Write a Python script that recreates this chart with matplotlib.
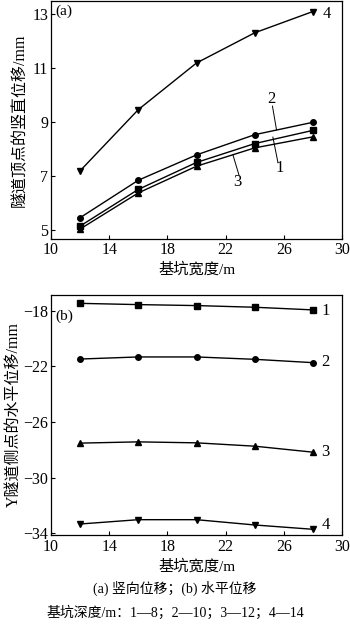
import numpy as np
import matplotlib
matplotlib.use("Agg")
import matplotlib.pyplot as plt

plt.rcParams['font.family'] = ['Liberation Serif', 'Noto Sans CJK SC']

# 基坑宽度 / m
width = [12, 16, 20, 24, 28]

# (a) 竖向位移 / mm
v1 = [5.15, 6.51, 7.51, 8.21, 8.70]
v2 = [5.46, 6.85, 7.79, 8.54, 9.00]
v3 = [5.04, 6.38, 7.37, 8.05, 8.46]
v4 = [7.20, 9.47, 11.20, 12.32, 13.11]

# (b) 水平位移 / mm
h1 = [-17.48, -17.57, -17.64, -17.76, -17.95]
h2 = [-21.48, -21.33, -21.33, -21.50, -21.74]
h3 = [-27.52, -27.43, -27.50, -27.74, -28.17]
h4 = [-33.33, -33.02, -33.02, -33.40, -33.71]

markers = ['s', 'o', '^', 'v']
names = ['1', '2', '3', '4']

fig = plt.figure(figsize=(3.5, 6.24), dpi=100)
W, H = 350, 624
ax1 = fig.add_axes([51/W, 1 - 239/H, 291/W, 238/H])
ax2 = fig.add_axes([51/W, 1 - 535/H, 291/W, 240/H])

for ys, m in zip([v1, v2, v3, v4], markers):
    ax1.plot(width, ys, color='black', lw=1.0, marker=m, ms=4)
for ys, m in zip([h1, h2, h3, h4], markers):
    ax2.plot(width, ys, color='black', lw=1.0, marker=m, ms=4)

for ax in (ax1, ax2):
    ax.set_xlim(10, 30)
    ax.set_xticks([10, 14, 18, 22, 26, 30])
    ax.tick_params(direction='in', length=3, width=0.8, labelsize=11.5, pad=2)
    for s in ax.spines.values():
        s.set_linewidth(0.9)
    ax.set_xlabel('基坑宽度/m', fontsize=11, labelpad=3)

ax1.set_ylim(4.67, 13.5)
ax1.set_yticks([5, 7, 9, 11, 13])
ax1.set_ylabel('隧道顶点的竖直位移/mm', fontsize=11.5, labelpad=3)

ax2.set_ylim(-34.12, -16.88)
ax2.set_yticks([-18, -22, -26, -30, -34])
ax2.set_yticklabels(['\u221218', '\u221222', '\u221226', '\u221230', '\u221234'])
ax2.set_ylabel('Y隧道侧点的水平位移/mm', fontsize=11.5, labelpad=1)
ax2.tick_params(axis='x', pad=3)

ax1.text(0.015, 0.985, '(a)', transform=ax1.transAxes, fontsize=11, va='top', ha='left')
ax2.text(0.015, 0.94, '(b)', transform=ax2.transAxes, fontsize=11, va='top', ha='left')

# curve labels, panel (a)
ax1.text(28.7, 13.0, '4', fontsize=12, va='center', ha='left')
ax1.text(25.15, 9.85, '2', fontsize=12, va='center', ha='center')
ax1.plot([25.22, 25.5], [9.6, 8.72], color='black', lw=0.7)
ax1.text(25.7, 7.3, '1', fontsize=12, va='center', ha='center')
ax1.plot([25.6, 25.25], [7.5, 8.45], color='black', lw=0.7)
ax1.text(22.8, 6.78, '3', fontsize=12, va='center', ha='center')
ax1.plot([22.92, 22.5], [7.04, 7.8], color='black', lw=0.7)

# curve labels, panel (b)
for yv, n in zip([-18.0, -21.71, -28.19, -33.43], names):
    ax2.text(28.6, yv, n, fontsize=12, va='center', ha='left')

fig.text(0.5, 1 - 588/H, '(a) 竖向位移；(b) 水平位移', fontsize=10, ha='center', va='center')
fig.text(0.5, 1 - 613/H, '基坑深度/m：1—8；2—10；3—12；4—14', fontsize=10, ha='center', va='center')

fig.savefig('out.png', dpi=100)
